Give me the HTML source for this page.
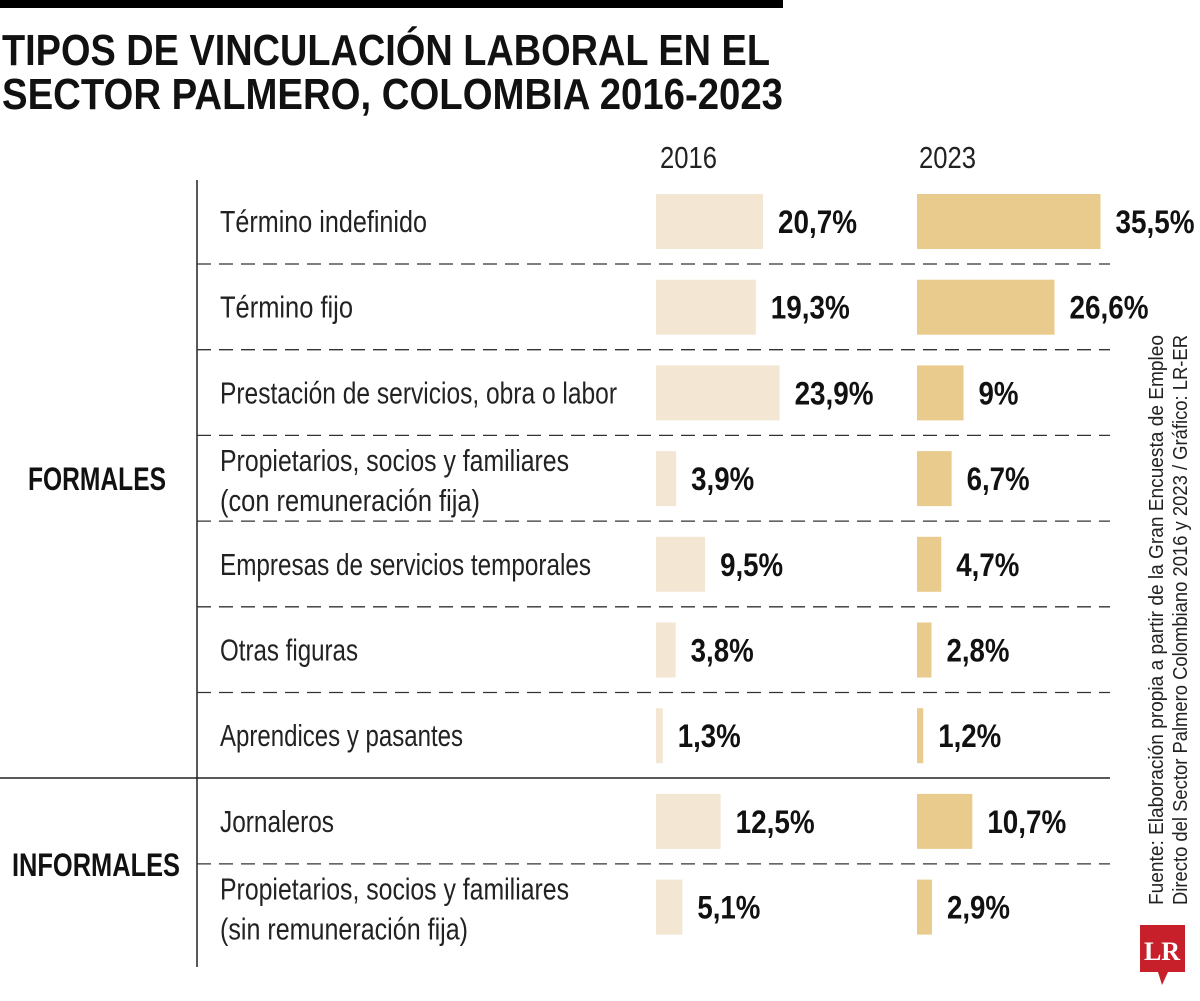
<!DOCTYPE html>
<html><head><meta charset="utf-8"><style>
html,body{margin:0;padding:0;background:#fff;}
svg{display:block;font-family:"Liberation Sans Narrow","Liberation Sans",sans-serif;}
</style></head><body>
<svg id="chart" width="1200" height="1001" viewBox="0 0 1200 1001">
<rect x="0" y="0" width="783" height="8" fill="#000"/>
<text x="2" y="65" font-size="44" font-weight="bold" fill="#111" textLength="768" lengthAdjust="spacingAndGlyphs">TIPOS DE VINCULACIÓN LABORAL EN EL</text>
<text x="2" y="109" font-size="44" font-weight="bold" fill="#111" textLength="781" lengthAdjust="spacingAndGlyphs">SECTOR PALMERO, COLOMBIA 2016-2023</text>
<text x="660" y="168" font-size="31" fill="#222" textLength="57" lengthAdjust="spacingAndGlyphs">2016</text>
<text x="919" y="168" font-size="31" fill="#222" textLength="57" lengthAdjust="spacingAndGlyphs">2023</text>
<line x1="197" y1="180" x2="197" y2="967" stroke="#222" stroke-width="1.5"/>
<line x1="0" y1="778" x2="1110" y2="778" stroke="#222" stroke-width="1.5"/>
<text x="28" y="490" font-size="32" font-weight="bold" fill="#111" textLength="138" lengthAdjust="spacingAndGlyphs">FORMALES</text>
<text x="12" y="876" font-size="32" font-weight="bold" fill="#111" textLength="168" lengthAdjust="spacingAndGlyphs">INFORMALES</text>
<g id="rows"></g>
<g transform="translate(1163,905) rotate(-90)">
<text x="0" y="0" font-size="20" fill="#222" textLength="570" lengthAdjust="spacingAndGlyphs">Fuente: Elaboración propia a partir de la Gran Encuesta de Empleo</text>
<text x="0" y="24" font-size="20" fill="#222" textLength="570" lengthAdjust="spacingAndGlyphs">Directo del Sector Palmero Colombiano 2016 y 2023 / Gráfico: LR-ER</text>
</g>
<g>
<path d="M1140 925 H1185 V972 H1168 L1162 985 L1158 972 H1140 Z" fill="#c8202b"/>
<text x="1162" y="960" font-family="Liberation Serif,serif" font-size="26" font-weight="bold" fill="#fff" text-anchor="middle">LR</text>
</g>
</svg>
<script>
const categories=["Término indefinido","Término fijo","Prestación de servicios, obra o labor","Propietarios, socios y familiares|(con remuneración fija)","Empresas de servicios temporales","Otras figuras","Aprendices y pasantes","Jornaleros","Propietarios, socios y familiares|(sin remuneración fija)"];
const values2016=[20.7,19.3,23.9,3.9,9.5,3.8,1.3,12.5,5.1];
const values2023=[35.5,26.6,9,6.7,4.7,2.8,1.2,10.7,2.9];
const labels2016=["20,7%","19,3%","23,9%","3,9%","9,5%","3,8%","1,3%","12,5%","5,1%"];
const labels2023=["35,5%","26,6%","9%","6,7%","4,7%","2,8%","1,2%","10,7%","2,9%"];
const labelWidths={"Término indefinido":207,"Término fijo":133,"Prestación de servicios, obra o labor":397,"Propietarios, socios y familiares":349,"(con remuneración fija)":260,"Empresas de servicios temporales":371,"Otras figuras":138,"Aprendices y pasantes":243,"Jornaleros":114,"(sin remuneración fija)":248};
const NS="http://www.w3.org/2000/svg";
const g=document.getElementById('rows');
const x16=v=>656+v*5.17, x23=v=>917+v*5.17;
const rowY=i=>221+i*85.7;
function valW(s){let w=0;for(const ch of s){w+= ch==='%'?24:(ch===','?7:16);}return w;}
function mk(tag,attrs,txt){const e=document.createElementNS(NS,tag);for(const k in attrs)e.setAttribute(k,attrs[k]);if(txt!=null)e.textContent=txt;g.appendChild(e);return e;}
categories.forEach((c,i)=>{
  const cy=rowY(i);
  const parts=c.split('|');
  parts.forEach((p,j)=>{
    const y=parts.length===1?cy+11:cy-7+j*40;
    const t=mk('text',{x:220,y:y,'font-size':31,fill:'#222',textLength:labelWidths[p]||200,lengthAdjust:'spacingAndGlyphs'},p);
    
    
  });
  const b1=mk('rect',{x:656,y:cy-27,width:x16(values2016[i])-656,height:55,fill:'#f3e6d3'});
  
  
  const l1=mk('text',{x:Math.max(x16(values2016[i])+15,672),y:cy+12,'font-size':32,'font-weight':'bold',fill:'#111',textLength:valW(labels2016[i]),lengthAdjust:'spacingAndGlyphs'},labels2016[i]);
  
  
  const b2=mk('rect',{x:917,y:cy-27,width:x23(values2023[i])-917,height:55,fill:'#e9cb8e'});
  
  
  const l2=mk('text',{x:Math.max(x23(values2023[i])+15,933),y:cy+12,'font-size':32,'font-weight':'bold',fill:'#111',textLength:valW(labels2023[i]),lengthAdjust:'spacingAndGlyphs'},labels2023[i]);
  
  
  if(i<categories.length-1 && i!==6){
    const ly=cy+43;
    const d=mk('line',{x1:197,y1:ly,x2:1110,y2:ly,stroke:'#333','stroke-width':1.3,'stroke-dasharray':'14 8'});
    
    
  }
});
</script>
</body></html>
